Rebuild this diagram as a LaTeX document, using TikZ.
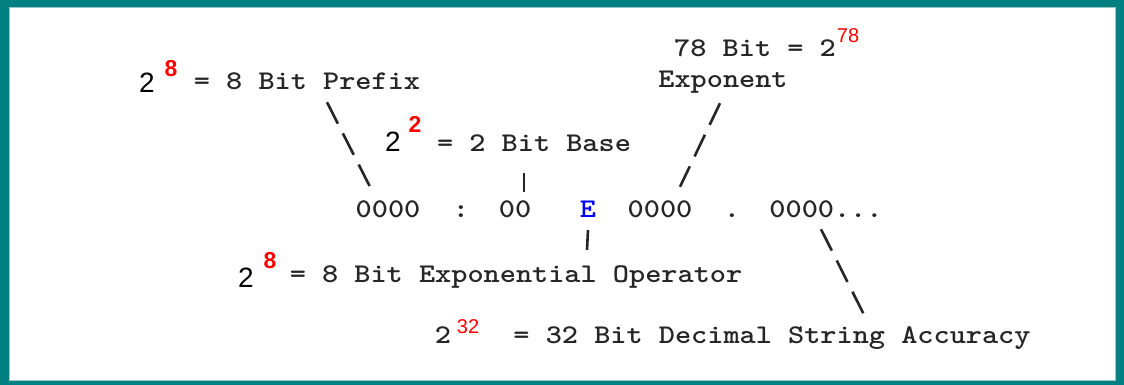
\documentclass[tikz,border=0pt]{standalone}
\usepackage{fontspec}
\newfontfamily\courfam{lmmonolt10-bold}[Extension=.otf, FakeStretch=1.14]
\newfontfamily\arialfam{Liberation Sans}
\definecolor{frameteal}{RGB}{0,128,128}
\definecolor{framelite}{RGB}{150,200,200}

\tikzset{
  lbl/.style={font=\courfam\fontsize{27}{27}\selectfont, text=black!85, inner sep=0pt, text height=16pt, text depth=5pt, anchor=base},
  two/.style={font=\arialfam\fontsize{28}{28}\selectfont, inner sep=0pt, anchor=base},
  pw/.style={font=\arialfam\bfseries\fontsize{23}{23}\selectfont, text=red, inner sep=0pt, anchor=base},
  pwthin/.style={font=\arialfam\fontsize{20}{20}\selectfont, text=red, inner sep=0pt, anchor=base},
  link/.style={line width=2.6pt, black!85, dash pattern=on 24pt off 11pt},
  bar/.style={line width=2.6pt, black!85},
}

\begin{document}
\begin{tikzpicture}[x=1pt,y=-1pt]
  \useasboundingbox (0,0) rectangle (1124,385);
  % frame
  \fill[frameteal] (0,0) rectangle (1124,385);
  \draw[fill=white, draw=framelite, line width=1pt] (9,8) rectangle (1115,380);

  % the number itself
  \node[lbl] (n1) at (388,217) {0000};
  \node[lbl] (colon) at (461,217) {:};
  \node[lbl] (n2) at (515,217) {00};
  \node[lbl, text=blue] (op) at (588,217) {E};
  \node[lbl] (n3) at (660,217) {0000};
  \node[lbl] (dot) at (732,217) {.};
  \node[lbl] (n4) at (826,217) {0000...};

  % prefix
  \node[two] (two1) at (147,93) {2};
  \node[pw] (pw1) at (171,77) {8};
  \node[lbl] (pfx) at (307,90) {= 8 Bit Prefix};

  % base
  \node[two] (two2) at (393,152) {2};
  \node[pw] (pw2) at (415,133) {2};
  \node[lbl] (bse) at (534,151) {= 2 Bit Base};

  % exponent
  \node[lbl] (bits) at (755,57) {78 Bit = 2};
  \node[pwthin] (pw3) at (848,43) {78};
  \node[lbl] (expo) at (723,88) {Exponent};

  % operator
  \node[two] (two4) at (246,287) {2};
  \node[pw] (pw4) at (270,268) {8};
  \node[lbl] (opr) at (516,282) {= 8 Bit Exponential Operator};

  % accuracy
  \node[lbl] (two5) at (443,343) {2};
  \node[pwthin] (pw5) at (468,333) {32};
  \node[lbl] (acc) at (772,343) {= 32 Bit Decimal String Accuracy};

  \draw[link] ([xshift=20pt,yshift=-7pt]pfx.south) -- ([xshift=-18pt,yshift=14pt]n1.north);
  \draw[bar] ([xshift=-10pt,yshift=-17pt]bse.south) -- ([xshift=9pt,yshift=9pt]n2.north);
  \draw[link] ([xshift=-3pt,yshift=-10pt]expo.south) -- ([xshift=20pt,yshift=14pt]n3.north);
  \draw[bar] ([yshift=-8pt]op.south) -- ([xshift=71pt,yshift=16pt]opr.north);
  \draw[link] ([xshift=-5pt,yshift=-7pt]n4.south) -- ([xshift=92pt,yshift=12pt]acc.north);
\end{tikzpicture}
\end{document}
